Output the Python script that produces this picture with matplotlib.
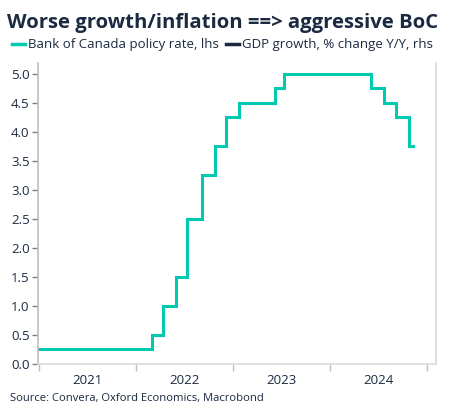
import matplotlib
matplotlib.use("Agg")
import matplotlib.pyplot as plt
import matplotlib.dates as mdates
from matplotlib.lines import Line2D
import pandas as pd

plt.rcParams['font.family'] = ['Open Sans', 'DejaVu Sans']

# Bank of Canada policy rate: change dates and levels
change_dates = ["2021-01-01", "2022-03-02", "2022-04-13", "2022-06-01", "2022-07-13",
                "2022-09-07", "2022-10-26", "2022-12-07", "2023-01-25", "2023-06-07",
                "2023-07-12", "2024-06-05", "2024-07-24", "2024-09-04", "2024-10-23"]
rate_levels = [0.25, 0.5, 1.0, 1.5, 2.5, 3.25, 3.75, 4.25, 4.5, 4.75,
               5.0, 4.75, 4.5, 4.25, 3.75]
end_date = "2024-11-08"

year_labels = ["2021", "2022", "2023", "2024"]
y_ticks = [0.0, 0.5, 1.0, 1.5, 2.0, 2.5, 3.0, 3.5, 4.0, 4.5, 5.0]

teal = "#00C9B1"
navy = "#1B2A41"
grey = "#D9D9D9"

dates = pd.to_datetime(change_dates + [end_date])
vals = rate_levels + [rate_levels[-1]]

fig = plt.figure(figsize=(4.53, 4.17), dpi=100)
ax = fig.add_axes([0.0839, 0.1271, 0.9625 - 0.0839, 0.849 - 0.1271])

ax.step(dates, vals, where="post", color=teal, lw=2.2, solid_joinstyle="miter")

ax.set_ylim(0, 5.19)
ax.set_xlim(pd.Timestamp("2020-12-28"), pd.Timestamp("2025-02-03"))
ax.set_yticks(y_ticks)
ax.set_yticklabels([f"{v:.1f}" for v in y_ticks])

ax.set_xticks([pd.Timestamp(f"{y}-01-01") for y in range(2021, 2026)])
ax.set_xticklabels([])
ax.set_xticks([pd.Timestamp(f"{y}-07-02") for y in year_labels], minor=True)
ax.set_xticklabels(year_labels, minor=True)
ax.tick_params(axis="x", which="major", length=5, color="#BFBFBF", width=1)
ax.tick_params(axis="x", which="minor", length=0, pad=7, labelsize=9.5, labelcolor=navy)
ax.tick_params(axis="y", length=4, color="#808080", width=1, labelsize=9.5, labelcolor=navy, pad=2)

for s in ["left", "bottom", "right"]:
    ax.spines[s].set_color(grey)
    ax.spines[s].set_linewidth(1.2)
ax.spines["left"].set_color("#BFBFBF")
ax.spines["top"].set_visible(False)

fig.text(0.016, 0.945, "Worse growth/inflation ==> aggressive BoC", fontsize=14.6,
         fontweight="bold", color=navy, ha="left", va="center")

handles = [Line2D([], [], color=teal, lw=2.5), Line2D([], [], color=navy, lw=2.5)]
fig.legend(handles, ["Bank of Canada policy rate, lhs", "GDP growth, % change Y/Y, rhs"],
           loc="center left", bbox_to_anchor=(0.026, 0.893), ncol=2, frameon=False,
           fontsize=9.5, handlelength=1.0, handletextpad=0.25, columnspacing=0.5,
           labelcolor=navy, borderaxespad=0, borderpad=0)

fig.text(0.022, 0.045, "Source: Convera, Oxford Economics, Macrobond", fontsize=8.1,
         color=navy, ha="left", va="center")

fig.savefig("out.png", dpi=100)
